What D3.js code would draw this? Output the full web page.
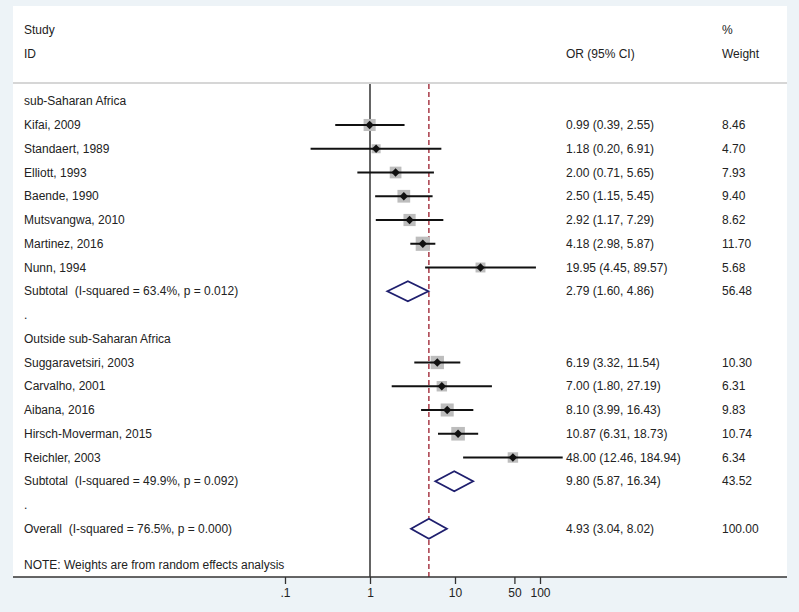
<!DOCTYPE html>
<html><head><meta charset="utf-8">
<script src="https://cdn.jsdelivr.net/npm/d3@7"></script>
<style>html,body{margin:0;padding:0;background:#edf3f7;} text{white-space:pre;}</style>
</head><body>
<svg id="c" width="799" height="612"></svg>
<script>
// ---- data ----
const studies = ["Kifai, 2009","Standaert, 1989","Elliott, 1993","Baende, 1990","Mutsvangwa, 2010","Martinez, 2016","Nunn, 1994",
                 "Suggaravetsiri, 2003","Carvalho, 2001","Aibana, 2016","Hirsch-Moverman, 2015","Reichler, 2003"];
const studyGroup = [0,0,0,0,0,0,0,1,1,1,1,1];
const orVals = [0.99,1.18,2.00,2.50,2.92,4.18,19.95,6.19,7.00,8.10,10.87,48.00];
const loVals = [0.39,0.20,0.71,1.15,1.17,2.98,4.45,3.32,1.80,3.99,6.31,12.46];
const hiVals = [2.55,6.91,5.65,5.45,7.29,5.87,89.57,11.54,27.19,16.43,18.73,184.94];
const weights = [8.46,4.70,7.93,9.40,8.62,11.70,5.68,10.30,6.31,9.83,10.74,6.34];
const groups = ["sub-Saharan Africa","Outside sub-Saharan Africa"];
const subLabels = ["Subtotal  (I-squared = 63.4%, p = 0.012)","Subtotal  (I-squared = 49.9%, p = 0.092)"];
const subOr = [2.79,9.80], subLo=[1.60,5.87], subHi=[4.86,16.34], subW=[56.48,43.52];
const overallLabel = "Overall  (I-squared = 76.5%, p = 0.000)";
const overallOr = 4.93, overallLo = 3.04, overallHi = 8.02, overallW = 100.00;
const noteText = "NOTE: Weights are from random effects analysis";
const tickVals = [0.1,1,10,50,100];
const tickLabels = [".1","1","10","50","100"];

// ---- layout ----
const svg = d3.select("#c");
const font = "Liberation Sans, Arial, sans-serif";
const fs = 12;
const x = d3.scaleLog().domain([1,10]).range([370,455]);
const y = d3.scaleLinear().domain([0,1]).range([30,53.75]);
const txtX = 24, orX = 566, wX = 722;
const axisY = 577;

// panel
svg.append("rect").attr("x",13).attr("y",6).attr("width",774).attr("height",axisY-6).attr("fill","#fff");
svg.append("line").attr("x1",13).attr("x2",787).attr("y1",83).attr("y2",83).attr("stroke","#c8c8c8").attr("stroke-width",1.5);

// rows
const rows = [];
let idx = 3;
groups.forEach((g,gi)=>{
  rows.push({type:"head",label:g,i:idx++});
  studies.forEach((s,k)=>{ if(studyGroup[k]===gi) rows.push({type:"study",label:s,or:orVals[k],lo:loVals[k],hi:hiVals[k],w:weights[k],i:idx++}); });
  rows.push({type:"sub",label:subLabels[gi],or:subOr[gi],lo:subLo[gi],hi:subHi[gi],w:subW[gi],i:idx++});
  rows.push({type:"dot",label:".",i:idx++});
});
rows.push({type:"sub",label:overallLabel,or:overallOr,lo:overallLo,hi:overallHi,w:overallW,i:idx});

const txt = (xx,yy,s,anchor)=>svg.append("text").attr("x",xx).attr("y",yy).attr("dy","0.35em")
  .attr("font-family",font).attr("font-size",fs).attr("fill","#222").attr("text-anchor",anchor||"start")
  .attr("xml:space","preserve").text(s);

txt(txtX,y(0),"Study"); txt(txtX,y(1),"ID");
txt(orX,y(1),"OR (95% CI)"); txt(wX,y(0),"%"); txt(wX,y(1),"Weight");

// null line and overall dashed line
svg.append("line").attr("x1",x(1)).attr("x2",x(1)).attr("y1",84).attr("y2",axisY).attr("stroke","#111").attr("stroke-width",1.3);
svg.append("line").attr("x1",x(overallOr)).attr("x2",x(overallOr)).attr("y1",84).attr("y2",axisY)
  .attr("stroke","#9b1c2c").attr("stroke-width",1.3).attr("stroke-dasharray","5,3");

const fmt = d3.format(".2f");
rows.forEach(r=>{
  const yy = y(r.i);
  txt(txtX,yy,r.label);
  if(r.type!=="study" && r.type!=="sub") return;
  txt(orX,yy,`${fmt(r.or)} (${fmt(r.lo)}, ${fmt(r.hi)})`);
  txt(wX,yy,fmt(r.w));
  if(r.type==="study"){
    const s = 4.15*Math.sqrt(r.w);
    svg.append("rect").attr("x",x(r.or)-s/2).attr("y",yy-s/2).attr("width",s).attr("height",s).attr("fill","#bdbdbd");
    svg.append("line").attr("x1",x(r.lo)).attr("x2",x(r.hi)).attr("y1",yy).attr("y2",yy).attr("stroke","#111").attr("stroke-width",2);
    const d=4.2;
    svg.append("path").attr("d",`M${x(r.or)-d},${yy}L${x(r.or)},${yy-d}L${x(r.or)+d},${yy}L${x(r.or)},${yy+d}Z`).attr("fill","#111");
  } else {
    const h=10;
    svg.append("path").attr("d",`M${x(r.lo)},${yy}L${x(r.or)},${yy-h}L${x(r.hi)},${yy}L${x(r.or)},${yy+h}Z`)
      .attr("fill","#fff").attr("stroke","#1f1f6e").attr("stroke-width",1.8);
  }
});
txt(txtX,565,noteText);

// axis
const ax = svg.append("g").attr("transform",`translate(0,${axisY})`)
  .call(d3.axisBottom(x).tickValues(tickVals).tickFormat((d,i)=>tickLabels[i]).tickSize(7).tickSizeOuter(0));
ax.select(".domain").remove();
ax.selectAll(".tick line").attr("stroke","#333").attr("stroke-width",1.3);
ax.selectAll(".tick text").attr("font-family",font).attr("font-size",fs).attr("fill","#222").attr("y",16).attr("dy","0.35em");
svg.append("line").attr("x1",13).attr("x2",787).attr("y1",axisY).attr("y2",axisY).attr("stroke","#333").attr("stroke-width",1.5);
</script>
</body></html>
